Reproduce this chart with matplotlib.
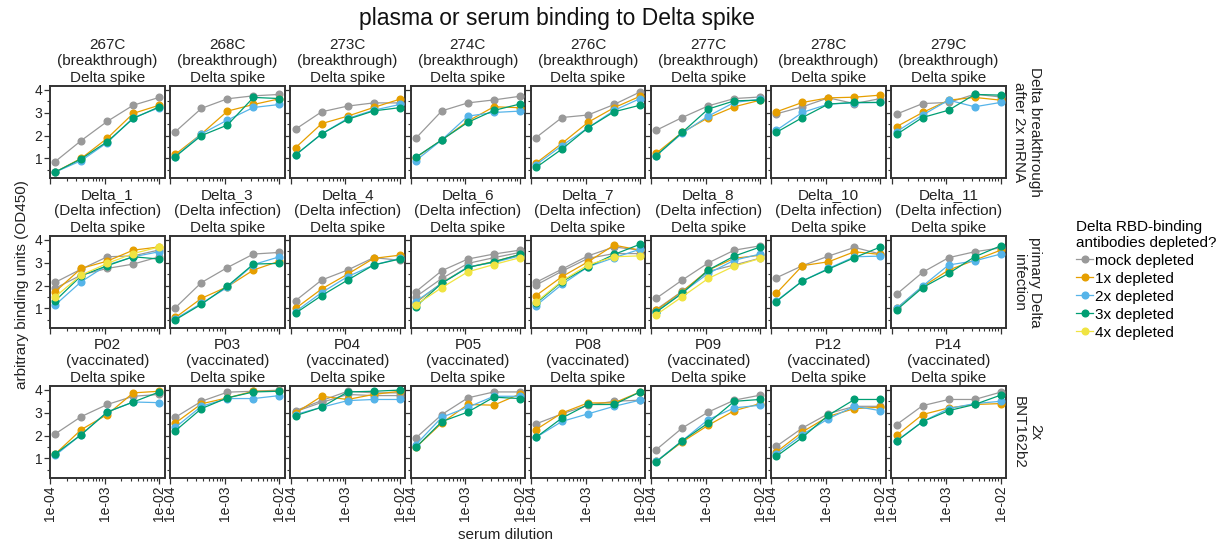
import matplotlib
matplotlib.use("Agg")
import matplotlib.pyplot as plt
from matplotlib.ticker import FixedLocator, NullFormatter, LogLocator
from matplotlib.lines import Line2D
import numpy as np

plt.rcParams['font.family'] = ['Liberation Sans', 'DejaVu Sans']

# serum dilutions (1/8100 ... 1/100)
dilution = [1/8100, 1/2700, 1/900, 1/300, 1/100]

colors = {"mock": "#999999", "1x": "#E69F00", "2x": "#56B4E9",
          "3x": "#009E73", "4x": "#F0E442"}
legend_labels = ["mock depleted", "1x depleted", "2x depleted", "3x depleted", "4x depleted"]

# row 1: Delta breakthrough after 2x mRNA
row1_names = ["267C", "268C", "273C", "274C", "276C", "277C", "278C", "279C"]
s267C = [("mock", [0.86, 1.78, 2.62, 3.33, 3.67]), ("1x", [0.40, 1.00, 1.88, 2.97, 3.33]),
         ("2x", [0.40, 0.90, 1.69, 2.78, 3.22]), ("3x", [0.40, 0.98, 1.73, 2.75, 3.26])]
s268C = [("mock", [2.17, 3.19, 3.61, 3.74, 3.80]), ("1x", [1.18, 2.07, 3.07, 3.36, 3.61]),
         ("2x", [1.08, 2.07, 2.68, 3.23, 3.36]), ("3x", [1.08, 2.00, 2.46, 3.67, 3.62])]
s273C = [("mock", [2.28, 3.04, 3.29, 3.43, 3.43]), ("1x", [1.47, 2.52, 2.85, 3.23, 3.59]),
         ("2x", [1.15, 2.07, 2.75, 3.11, 3.36]), ("3x", [1.15, 2.07, 2.71, 3.08, 3.22])]
s274C = [("mock", [1.88, 3.08, 3.43, 3.56, 3.72]), ("1x", [1.03, 1.81, 2.63, 3.26, 3.22]),
         ("2x", [0.90, 1.81, 2.85, 3.01, 3.07]), ("3x", [1.05, 1.81, 2.58, 3.10, 3.38])]
s276C = [("mock", [1.91, 2.79, 2.90, 3.36, 3.91]), ("1x", [0.79, 1.66, 2.58, 3.22, 3.72]),
         ("2x", [0.72, 1.56, 2.34, 3.10, 3.62]), ("3x", [0.60, 1.41, 2.34, 3.04, 3.33])]
s277C = [("mock", [2.23, 2.79, 3.30, 3.62, 3.69]), ("1x", [1.22, 2.14, 2.78, 3.26, 3.55]),
         ("2x", [1.12, 2.10, 2.85, 3.45, 3.59]), ("3x", [1.12, 2.14, 3.16, 3.52, 3.55])]
s278C = [("mock", [2.95, 3.26, 3.65, 3.40, 3.62]), ("1x", [3.04, 3.45, 3.65, 3.68, 3.77]),
         ("2x", [2.23, 3.01, 3.38, 3.43, 3.45]), ("3x", [2.14, 2.79, 3.38, 3.45, 3.45])]
s279C = [("mock", [2.94, 3.40, 3.45, 3.81, 3.69]), ("1x", [2.39, 3.01, 3.55, 3.67, 3.55]),
         ("2x", [2.17, 2.90, 3.55, 3.26, 3.45]), ("3x", [2.05, 2.79, 3.11, 3.80, 3.77])]

# row 2: primary Delta infection
row2_names = ["Delta_1", "Delta_3", "Delta_4", "Delta_6", "Delta_7", "Delta_8", "Delta_10", "Delta_11"]
sD1 = [("mock", [2.14, 2.72, 3.26, 3.30, 3.56]), ("mock", [1.88, 2.46, 2.75, 2.94, 3.26]),
       ("1x", [1.73, 2.75, 3.07, 3.55, 3.69]), ("2x", [1.15, 2.17, 2.90, 3.26, 3.48]),
       ("3x", [1.33, 2.43, 2.87, 3.26, 3.16]), ("4x", [1.51, 2.46, 2.97, 3.40, 3.69])]
sD3 = [("mock", [1.03, 2.13, 2.79, 3.38, 3.45]), ("1x", [0.60, 1.44, 1.95, 2.68, 3.07]),
       ("2x", [0.54, 1.22, 1.92, 2.92, 3.26]), ("3x", [0.50, 1.18, 1.98, 2.94, 2.97])]
sD4 = [("mock", [1.34, 2.24, 2.68, 3.22, 3.11]), ("1x", [1.00, 1.85, 2.50, 3.19, 3.33]),
       ("2x", [0.86, 1.69, 2.39, 2.90, 3.19]), ("3x", [0.79, 1.56, 2.24, 2.90, 3.16])]
sD6 = [("mock", [1.73, 2.65, 3.16, 3.38, 3.55]), ("mock", [1.51, 2.31, 2.97, 3.22, 3.45]),
       ("1x", [1.25, 2.12, 2.80, 3.05, 3.35]), ("2x", [1.30, 2.10, 2.82, 3.01, 3.30]),
       ("3x", [1.08, 2.10, 2.79, 3.04, 3.36]), ("4x", [1.15, 1.91, 2.60, 2.92, 3.22])]
sD7 = [("mock", [2.14, 2.72, 3.30, 3.69, 3.55]), ("mock", [2.02, 2.63, 3.19, 3.40, 3.40]),
       ("1x", [1.56, 2.39, 3.04, 3.77, 3.55]), ("2x", [1.12, 2.05, 2.82, 3.22, 3.59]),
       ("3x", [1.22, 2.17, 2.82, 3.36, 3.81]), ("4x", [1.27, 2.20, 2.90, 3.26, 3.30])]
sD8 = [("mock", [1.44, 2.24, 2.99, 3.55, 3.74]), ("mock", [0.95, 1.75, 2.62, 2.90, 3.20]),
       ("1x", [0.91, 1.73, 2.68, 3.19, 3.33]), ("2x", [0.84, 1.69, 2.53, 3.11, 3.38]),
       ("3x", [0.84, 1.66, 2.68, 3.29, 3.69]), ("4x", [0.72, 1.51, 2.31, 2.85, 3.19])]
sD10 = [("mock", [2.34, 2.87, 3.29, 3.67, 3.38]), ("1x", [1.66, 2.87, 3.04, 3.48, 3.36]),
        ("2x", [1.33, 2.20, 2.75, 3.26, 3.29]), ("3x", [1.30, 2.20, 2.72, 3.22, 3.69])]
sD11 = [("mock", [1.62, 2.58, 3.22, 3.48, 3.65]), ("1x", [1.00, 1.95, 2.68, 3.11, 3.55]),
        ("2x", [1.00, 1.98, 2.90, 3.08, 3.38]), ("3x", [0.93, 1.91, 2.53, 3.26, 3.74])]

# row 3: 2x BNT162b2
row3_names = ["P02", "P03", "P04", "P05", "P08", "P09", "P12", "P14"]
sP02 = [("mock", [2.07, 2.83, 3.36, 3.72, 3.80]), ("1x", [1.19, 2.26, 2.92, 3.87, 3.94]),
        ("2x", [1.13, 2.04, 3.03, 3.47, 3.44]), ("3x", [1.19, 2.04, 3.03, 3.47, 3.91])]
sP03 = [("mock", [2.80, 3.50, 3.90, 3.94, 3.99]), ("1x", [2.55, 3.39, 3.65, 3.94, 3.94]),
        ("2x", [2.36, 3.28, 3.62, 3.62, 3.75]), ("3x", [2.21, 3.18, 3.65, 3.91, 3.94])]
sP04 = [("mock", [3.09, 3.53, 3.94, 3.87, 3.87]), ("mock", [3.05, 3.45, 3.80, 3.75, 3.75]),
        ("1x", [2.99, 3.72, 3.58, 3.80, 3.94]), ("2x", [2.92, 3.24, 3.53, 3.58, 3.58]),
        ("3x", [2.87, 3.24, 3.91, 3.94, 3.99])]
sP05 = [("mock", [1.89, 2.92, 3.65, 3.91, 3.91]), ("1x", [1.48, 2.55, 3.36, 3.33, 3.82]),
        ("2x", [1.60, 2.80, 3.24, 3.72, 3.72]), ("3x", [1.48, 2.61, 3.03, 3.68, 3.62])]
sP08 = [("mock", [2.51, 2.95, 3.33, 3.50, 3.55]), ("1x", [2.26, 2.99, 3.43, 3.43, 3.91]),
        ("2x", [1.92, 2.62, 2.95, 3.28, 3.55]), ("3x", [1.92, 2.77, 3.36, 3.36, 3.91])]
sP09 = [("mock", [1.38, 2.33, 3.03, 3.55, 3.77]), ("1x", [0.87, 1.72, 2.45, 3.09, 3.40]),
        ("2x", [0.87, 1.77, 2.70, 3.21, 3.33]), ("3x", [0.84, 1.77, 2.55, 3.50, 3.58])]
sP12 = [("mock", [1.53, 2.33, 2.96, 3.28, 3.28]), ("1x", [1.28, 2.16, 2.84, 3.18, 3.24]),
        ("2x", [1.19, 2.04, 2.74, 3.28, 3.09]), ("3x", [1.09, 1.92, 2.89, 3.58, 3.58])]
sP14 = [("mock", [2.48, 3.31, 3.58, 3.58, 3.90]), ("1x", [2.01, 2.92, 3.21, 3.36, 3.40]),
        ("2x", [1.77, 2.61, 3.18, 3.40, 3.50]), ("3x", [1.75, 2.61, 3.09, 3.36, 3.77])]

rows = [
    (row1_names, "(breakthrough)", [s267C, s268C, s273C, s274C, s276C, s277C, s278C, s279C],
     "Delta breakthrough\nafter 2x mRNA"),
    (row2_names, "(Delta infection)", [sD1, sD3, sD4, sD6, sD7, sD8, sD10, sD11],
     "primary Delta\ninfection"),
    (row3_names, "(vaccinated)", [sP02, sP03, sP04, sP05, sP08, sP09, sP12, sP14],
     "2x\nBNT162b2"),
]

W, H = 1225, 546
fig = plt.figure(figsize=(W / 100, H / 100), dpi=100)

left0, step, pw, ph = 50, 120.2, 114.5, 92
tops = [86, 236, 386]
lo = np.log10(dilution[0]); hi = np.log10(dilution[-1])
pad = 0.05 * (hi - lo)
xlim = (10 ** (lo - pad), 10 ** (hi + pad))
frame_col = "#333333"
txt_col = "#222222"

for r, (names, kind, series, rowlab) in enumerate(rows):
    for c in range(8):
        x0 = left0 + c * step
        ax = fig.add_axes([x0 / W, 1 - (tops[r] + ph) / H, pw / W, ph / H])
        for key, vals in series[c]:
            ax.plot(dilution, vals, "-o", color=colors[key], lw=0.9, ms=4.8,
                    mec=colors[key], zorder=3)
        ax.set_xscale("log")
        ax.set_xlim(*xlim)
        ax.set_ylim(0.14, 4.17)
        ax.set_yticks([1, 2, 3, 4])
        ax.yaxis.set_minor_locator(FixedLocator([0.5, 1.5, 2.5, 3.5]))
        ax.set_xticks([1e-4, 1e-3, 1e-2])
        ax.xaxis.set_minor_locator(LogLocator(base=10, subs=np.arange(2, 10)))
        ax.xaxis.set_minor_formatter(NullFormatter())
        for sp in ax.spines.values():
            sp.set_color(frame_col)
            sp.set_linewidth(1.4)
        ax.tick_params(which="major", length=4, width=0.9, color=frame_col,
                       labelsize=10, labelcolor=txt_col, pad=1.5)
        ax.tick_params(which="minor", length=2.5, width=0.8, color=frame_col)
        if r == 2:
            ax.set_xticklabels(["1e-04", "1e-03", "1e-02"], rotation=90)
        else:
            ax.set_xticklabels([])
        if c != 0:
            ax.set_yticklabels([])
        ax.set_title(f"{names[c]}\n{kind}\nDelta spike", fontsize=11, pad=3,
                     linespacing=1.22, color=txt_col)
    fig.text(1027 / W, 1 - (tops[r] + ph / 2) / H, rowlab, rotation=270,
             ha="center", va="center", fontsize=11, linespacing=1.15, color=txt_col)

fig.text(557 / W, 1 - 18 / H, "plasma or serum binding to Delta spike",
         ha="center", va="center", fontsize=16.5, color="#111111")
fig.text(505 / W, 1 - 535 / H, "serum dilution", ha="center", va="center",
         fontsize=11, color=txt_col)
fig.text(22 / W, 1 - 285 / H, "arbitrary binding units (OD450)", rotation=90,
         ha="center", va="center", fontsize=11, color=txt_col)

handles = [Line2D([], [], color=colors[k], marker="o", lw=0.9, ms=4.8)
           for k in ["mock", "1x", "2x", "3x", "4x"]]
leg = fig.legend(handles, legend_labels, title="Delta RBD-binding\nantibodies depleted?",
                 loc="upper left", bbox_to_anchor=(1070 / W, 1 - 214 / H),
                 frameon=False, fontsize=11, title_fontsize=11, handlelength=1.1,
                 handletextpad=0.15, labelspacing=0.26, borderaxespad=0,
                 alignment="left")
leg.get_title().set_linespacing(1.15)

fig.savefig("out.png", dpi=100)
